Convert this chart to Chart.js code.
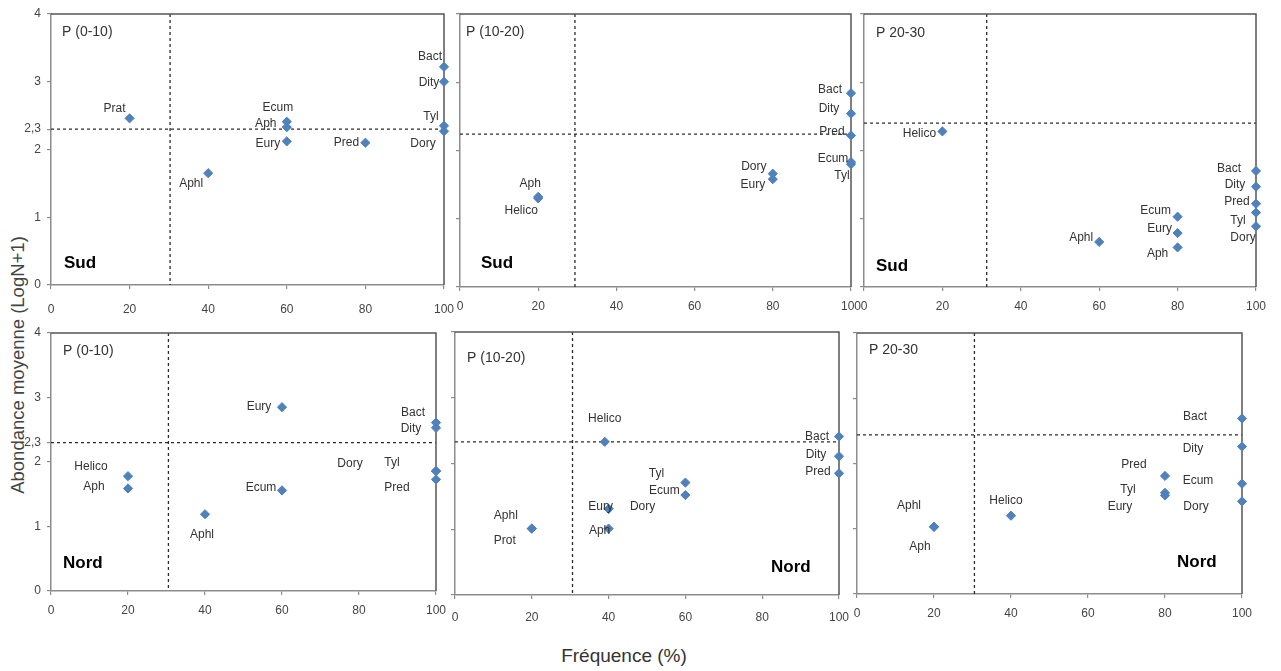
<!DOCTYPE html>
<html>
<head>
<meta charset="utf-8">
<script src="https://cdn.jsdelivr.net/npm/chart.js@4.4.0/dist/chart.umd.min.js"></script>
<style>
  html, body { margin: 0; padding: 0; background: #fff; }
  body { width: 1281px; height: 671px; position: relative; overflow: hidden; font-family: "Liberation Sans", Arial, sans-serif; }
  canvas { position: absolute; }
  #ytitle { position: absolute; left: 18px; top: 365px; transform: translate(-50%, -50%) rotate(-90deg); white-space: nowrap; font-size: 18.5px; color: #444; }
  #xtitle { position: absolute; left: 624px; top: 656px; transform: translate(-50%, -50%); white-space: nowrap; font-size: 19px; color: #333; }
</style>
</head>
<body>
<div id="ytitle">Abondance moyenne (LogN+1)</div>
<div id="xtitle">Fréquence (%)</div>
<script>
// ---- Data: frequency (%) and mean abundance (log N+1) per taxon ----
const freqTicks  = [0, 20, 40, 60, 80, 100];
const abundTicks = [0, 1, 2, 3, 4];

// Sud, P (0-10)
const sud010Taxa  = ['Prat', 'Aphl', 'Ecum', 'Aph', 'Eury', 'Pred', 'Bact', 'Dity', 'Tyl', 'Dory'];
const sud010Freq  = [20, 40, 60, 60, 60, 80, 100, 100, 100, 100];
const sud010Abund = [2.46, 1.65, 2.41, 2.33, 2.12, 2.10, 3.22, 3.00, 2.35, 2.27];

// Sud, P (10-20)
const sud1020Taxa  = ['Aph', 'Helico', 'Dory', 'Eury', 'Bact', 'Dity', 'Pred', 'Ecum', 'Tyl'];
const sud1020Freq  = [20, 20, 80, 80, 100, 100, 100, 100, 100];
const sud1020Abund = [1.32, 1.30, 1.66, 1.58, 2.84, 2.54, 2.22, 1.83, 1.80];

// Sud, P 20-30
const sud2030Taxa  = ['Helico', 'Aphl', 'Ecum', 'Eury', 'Aph', 'Bact', 'Dity', 'Pred', 'Tyl', 'Dory'];
const sud2030Freq  = [20, 60, 80, 80, 80, 100, 100, 100, 100, 100];
const sud2030Abund = [2.28, 0.66, 1.03, 0.79, 0.58, 1.70, 1.47, 1.22, 1.09, 0.89];

// Nord, P (0-10)
const nord010Taxa  = ['Helico', 'Aph', 'Aphl', 'Eury', 'Ecum', 'Bact', 'Dity', 'Dory', 'Tyl', 'Pred'];
const nord010Freq  = [20, 20, 40, 60, 60, 100, 100, 100, 100, 100];
const nord010Abund = [1.78, 1.59, 1.19, 2.85, 1.56, 2.61, 2.53, 1.86, 1.86, 1.73];

// Nord, P (10-20)
const nord1020Taxa  = ['Helico', 'Aphl', 'Prot', 'Eury', 'Aph', 'Dory', 'Tyl', 'Ecum', 'Bact', 'Dity', 'Pred'];
const nord1020Freq  = [39, 20, 20, 40, 40, 40, 60, 60, 100, 100, 100];
const nord1020Abund = [2.33, 1.01, 1.01, 1.31, 1.01, 1.31, 1.71, 1.52, 2.41, 2.11, 1.85];

// Nord, P 20-30
const nord2030Taxa  = ['Aphl', 'Aph', 'Helico', 'Pred', 'Tyl', 'Eury', 'Bact', 'Dity', 'Ecum', 'Dory'];
const nord2030Freq  = [20, 20, 40, 80, 80, 80, 100, 100, 100, 100];
const nord2030Abund = [1.03, 1.03, 1.20, 1.81, 1.55, 1.51, 2.69, 2.26, 1.69, 1.42];

// Threshold lines (frequency, abundance) for each panel
const freqThresholds  = [30.3, 29.4, 31.3, 30.5, 30.6, 30.5];
const abundThresholds = [2.3, 2.24, 2.40, 2.3, 2.33, 2.44];

// ---- Layout: label nudges (px) and panel placement ----
const sud010Shift   = [[-15,-10],[-17,10],[-9,-14],[-21,-3],[-19,2],[-19,0],[-14,-10],[-15,1],[-13,-9],[-21,12]];
const sud1020Shift  = [[-8,-13],[-17,12],[-19,-7],[-20,6],[-21,-3],[-22,-5],[-19,-4],[-18,-3],[-9,12]];
const sud2030Shift  = [[-23,2],[-18,-4],[-22,-6],[-18,-4],[-20,6],[-27,-2],[-21,-2],[-19,-2],[-18,8],[-13,11]];
const nord010Shift  = [[-37,-10],[-34,-2],[-3,20],[-23,0],[-21,-3],[-23,-10],[-25,1],[-86,-7],[-44,-8],[-39,8]];
const nord1020Shift = [[0,-23],[-26,-13],[-27,12],[-8,-2],[-9,2],[34,-2],[-29,-9],[-21,-4],[-22,0],[-23,-2],[-21,-2]];
const nord2030Shift = [[-25,-21],[-14,20],[-5,-15],[-31,-11],[-37,-3],[-45,11],[-47,-2],[-49,2],[-44,-3],[-46,5]];

const panels = [
  { title: 'P (0-10)',  region: 'Sud',  taxa: sud010Taxa,  freq: sud010Freq,  abund: sud010Abund,  shift: sud010Shift,
    area: [51, 14, 444, 285],  yLabels: true,  tickPad: 13, titleAt: [11, 18], regionAt: [13, 249] },
  { title: 'P (10-20)', region: 'Sud',  taxa: sud1020Taxa, freq: sud1020Freq, abund: sud1020Abund, shift: sud1020Shift,
    area: [460, 14, 851, 287], yLabels: false, tickPad: 8,  titleAt: [6, 18],  regionAt: [21, 249] },
  { title: 'P 20-30',   region: 'Sud',  taxa: sud2030Taxa, freq: sud2030Freq, abund: sud2030Abund, shift: sud2030Shift,
    area: [864, 14, 1256, 287], yLabels: false, tickPad: 8, titleAt: [12, 19], regionAt: [12, 252] },
  { title: 'P (0-10)',  region: 'Nord', taxa: nord010Taxa,  freq: nord010Freq,  abund: nord010Abund,  shift: nord010Shift,
    area: [51, 333, 436, 591], yLabels: true,  tickPad: 8,  titleAt: [12, 18], regionAt: [12, 230] },
  { title: 'P (10-20)', region: 'Nord', taxa: nord1020Taxa, freq: nord1020Freq, abund: nord1020Abund, shift: nord1020Shift,
    area: [455, 332, 839, 595], yLabels: false, tickPad: 11, titleAt: [12, 26], regionAt: [316, 235] },
  { title: 'P 20-30',   region: 'Nord', taxa: nord2030Taxa, freq: nord2030Freq, abund: nord2030Abund, shift: nord2030Shift,
    area: [857, 333, 1242, 594], yLabels: false, tickPad: 8, titleAt: [12, 17], regionAt: [320, 229] }
];

const MARKER = '#4f81bd';
const PAD_L = 51, PAD_T = 14, PAD_R = 24, PAD_B = 40;

// Draws threshold lines, frame, point labels, panel title and region name
const panelDecor = {
  id: 'panelDecor',
  beforeDatasetsDraw(chart, args, opts) {
    const { ctx, chartArea: a, scales: { x, y } } = chart;
    const px = x.getPixelForValue(opts.freqLine);
    const py = y.getPixelForValue(opts.abundLine);
    ctx.save();
    ctx.strokeStyle = '#2b2b2b';
    ctx.lineWidth = 1.3;
    ctx.setLineDash([3, 3]);
    ctx.beginPath();
    ctx.moveTo(a.left, py); ctx.lineTo(a.right, py);
    ctx.moveTo(px, a.top); ctx.lineTo(px, a.bottom);
    ctx.stroke();
    ctx.restore();
    // top and right frame edges (under the markers)
    ctx.save();
    ctx.strokeStyle = '#555';
    ctx.lineWidth = 1.5;
    ctx.beginPath();
    ctx.moveTo(a.left, a.top); ctx.lineTo(a.right, a.top); ctx.lineTo(a.right, a.bottom);
    ctx.stroke();
    ctx.restore();
  },
  afterDatasetsDraw(chart, args, opts) {
    const { ctx, chartArea: a } = chart;
    const p = opts.panel;
    ctx.save();
    // taxon labels
    const meta = chart.getDatasetMeta(0);
    ctx.font = '12px "Liberation Sans", Arial, sans-serif';
    ctx.fillStyle = '#333';
    ctx.textAlign = 'center';
    ctx.textBaseline = 'middle';
    meta.data.forEach((pt, i) => {
      const s = p.shift[i];
      ctx.fillText(p.taxa[i], pt.x + s[0], pt.y + s[1]);
    });

    // panel title and region
    ctx.textAlign = 'left';
    ctx.font = '14px "Liberation Sans", Arial, sans-serif';
    ctx.fillStyle = '#333';
    ctx.fillText(p.title, a.left + p.titleAt[0], a.top + p.titleAt[1]);
    ctx.font = 'bold 17px "Liberation Sans", Arial, sans-serif';
    ctx.fillStyle = '#000';
    ctx.fillText(p.region, a.left + p.regionAt[0], a.top + p.regionAt[1]);
    ctx.restore();
  }
};

panels.forEach((p, k) => {
  const c = document.createElement('canvas');
  const w = p.area[2] - p.area[0] + PAD_L + PAD_R;
  const h = p.area[3] - p.area[1] + PAD_T + PAD_B;
  c.width = w; c.height = h;
  c.style.width = w + 'px'; c.style.height = h + 'px';
  c.style.left = (p.area[0] - PAD_L) + 'px';
  c.style.top = (p.area[1] - PAD_T) + 'px';
  document.body.appendChild(c);

  new Chart(c, {
    type: 'scatter',
    data: {
      datasets: [{
        data: p.freq.map((f, i) => ({ x: f, y: p.abund[i] })),
        pointStyle: 'rectRot',
        pointRadius: 4.6,
        pointHoverRadius: 4.6,
        backgroundColor: MARKER,
        borderColor: MARKER,
        borderWidth: 1,
        clip: false
      }]
    },
    options: {
      responsive: false,
      animation: false,
      devicePixelRatio: 1,
      events: [],
      layout: { padding: { top: PAD_T, right: PAD_R, left: 0, bottom: 0 } },
      plugins: {
        legend: { display: false },
        tooltip: { enabled: false },
        panelDecor: { panel: p, freqLine: freqThresholds[k], abundLine: abundThresholds[k] }
      },
      scales: {
        x: {
          type: 'linear', min: 0, max: 100,
          afterFit(s) { s.height = PAD_B; },
          afterBuildTicks(s) { s.ticks = freqTicks.map(v => ({ value: v })); },
          ticks: {
            autoSkip: false, maxRotation: 0, padding: p.tickPad,
            color: '#444', font: { family: '"Liberation Sans", Arial, sans-serif', size: 12 }
          },
          grid: { drawOnChartArea: false, tickLength: 4, color: '#8c8c8c', lineWidth: 1.2 },
          border: { color: '#8c8c8c', width: 1.5 }
        },
        y: {
          type: 'linear', min: 0, max: 4,
          afterFit(s) { s.width = PAD_L; },
          afterBuildTicks(s) {
            const vals = p.yLabels ? abundTicks.concat([abundThresholds[k]]).sort((m, n) => m - n) : abundTicks;
            s.ticks = vals.map(v => ({ value: v }));
          },
          ticks: {
            display: p.yLabels, autoSkip: false, padding: 6,
            color: '#444', font: { family: '"Liberation Sans", Arial, sans-serif', size: 12 },
            callback: v => String(v).replace('.', ',')
          },
          grid: { drawOnChartArea: false, tickLength: 4, color: '#8c8c8c', lineWidth: 1.2 },
          border: { color: '#8c8c8c', width: 1.5 }
        }
      }
    },
    plugins: [panelDecor]
  });
});
</script>
</body>
</html>
